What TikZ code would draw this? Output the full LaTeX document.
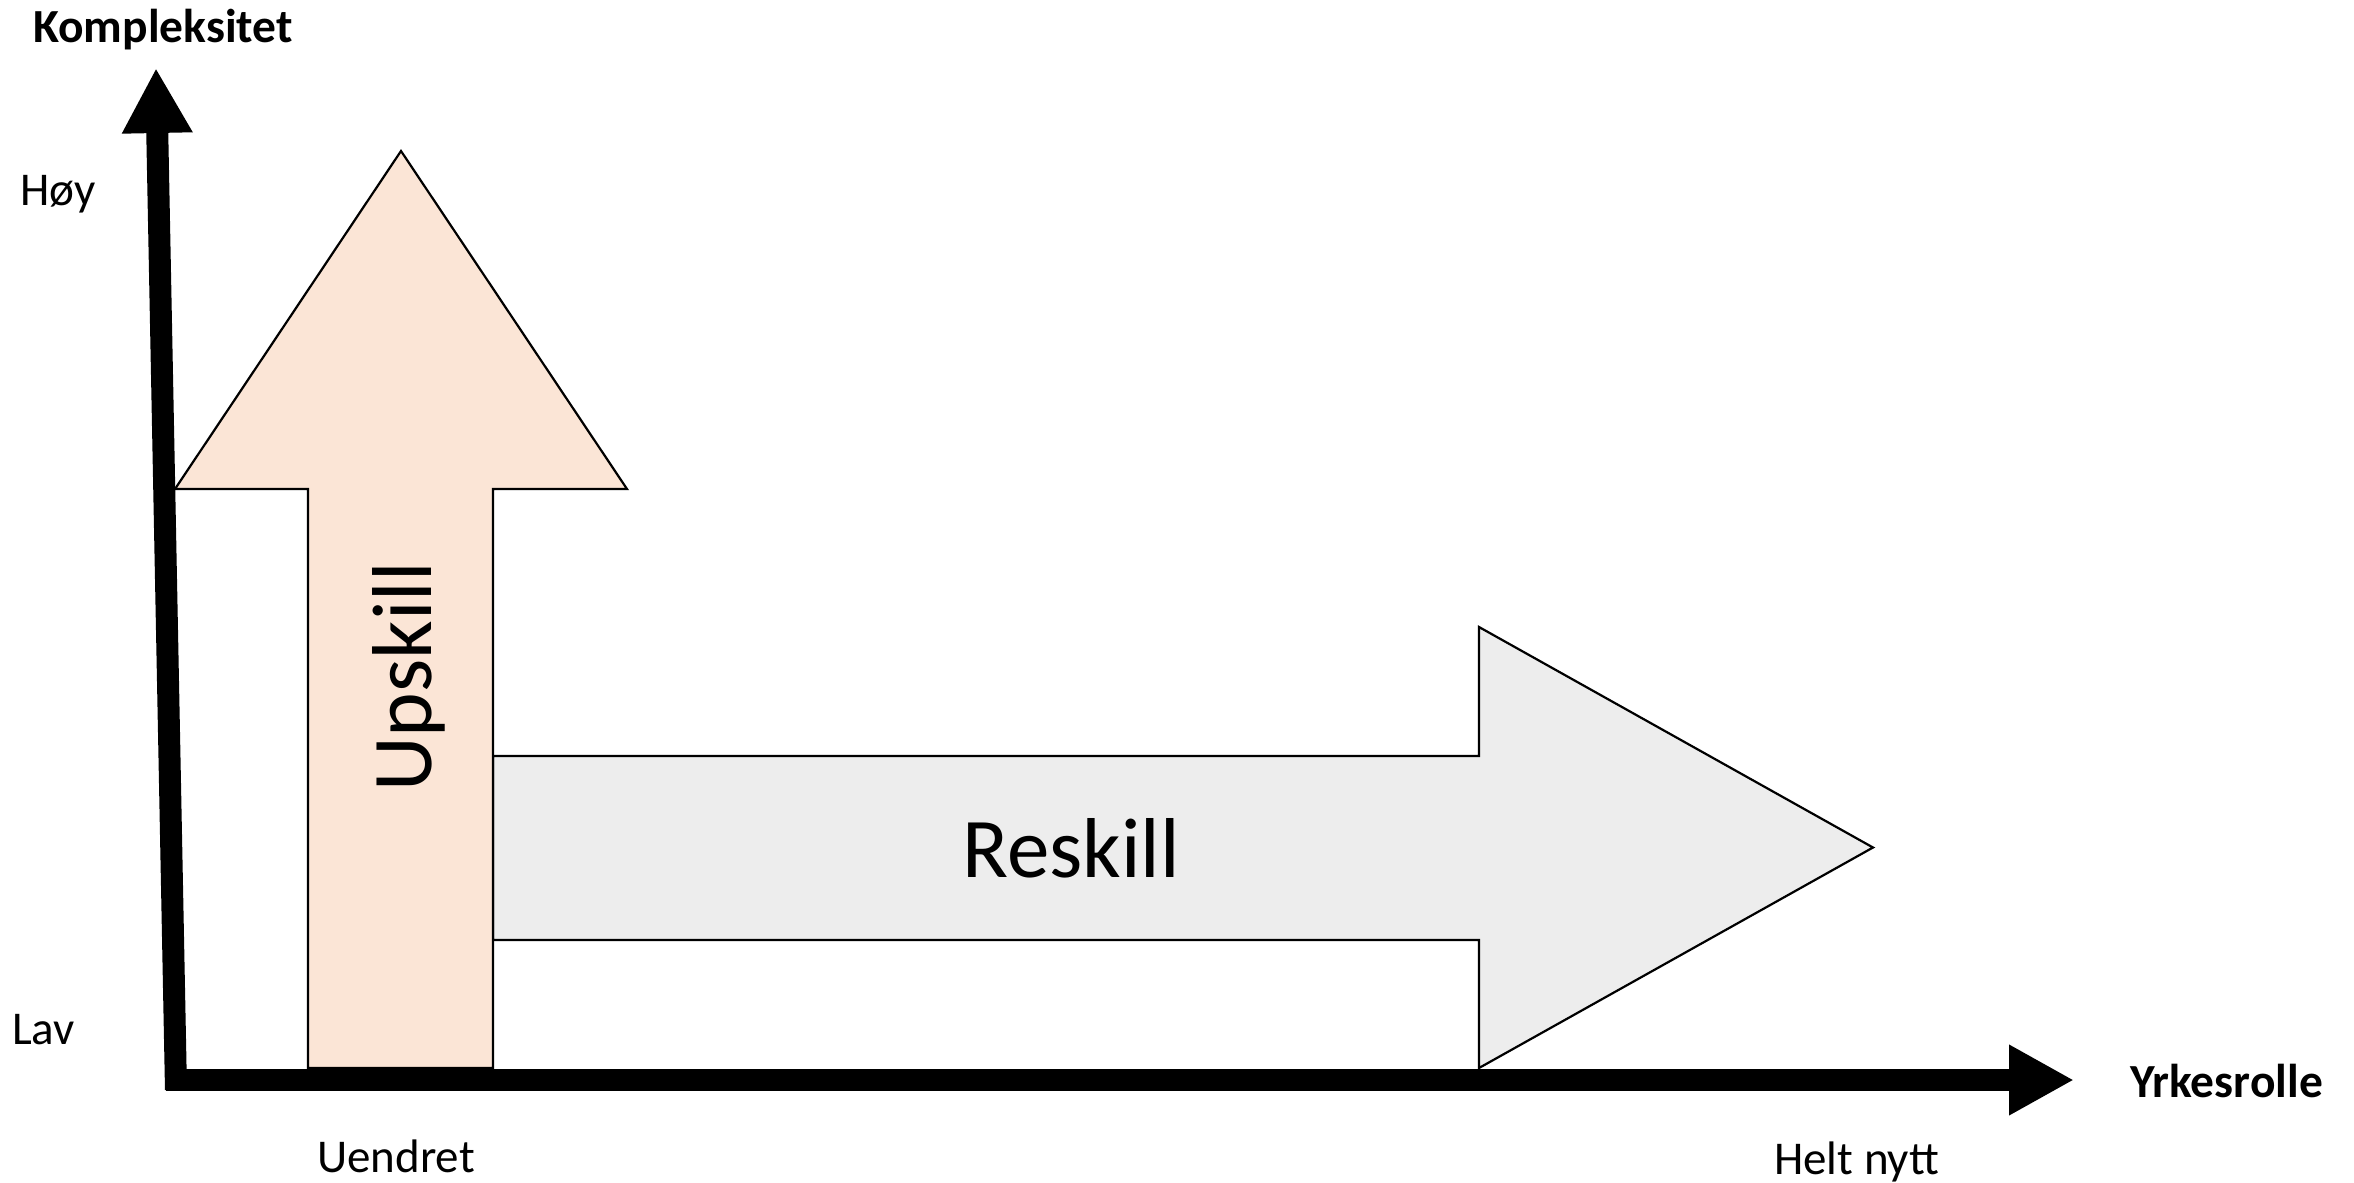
\documentclass[tikz,border=0pt]{standalone}
\usepackage{fontspec}
\setmainfont{Carlito}
\usetikzlibrary{arrows.meta}
\definecolor{upfill}{HTML}{FBE5D6}
\definecolor{refill}{HTML}{EDEDED}
\begin{document}
\begin{tikzpicture}[x=1pt,y=-1pt,
  axis/.style={line width=22pt, -{Triangle[length=65pt,width=66pt]}},
  outl/.style={draw=black, line width=2.2pt, line join=miter},
  lbl/.style={font=\fontsize{47}{52}\selectfont, anchor=base west, inner sep=0pt},
  blbl/.style={font=\fontsize{47.5}{52}\selectfont\bfseries, anchor=base west, inner sep=0pt},
  big/.style={font=\fontsize{85}{92}\selectfont, anchor=base, inner sep=0pt}]
\useasboundingbox (0,0) rectangle (2354,1183);
% reskill arrow
\draw[outl, fill=refill] (493,756) -- (1479,756) -- (1479,627) -- (1873,847.5) -- (1479,1068) -- (1479,940) -- (493,940) -- cycle;
% upskill arrow
\draw[outl, fill=upfill] (401,151) -- (627,489) -- (493,489) -- (493,1068) -- (308,1068) -- (308,489) -- (175,489) -- cycle;
% axes
\coordinate (yb) at (176,1090);
\coordinate (yt) at (156,68);
\coordinate (xb) at (166,1080);
\coordinate (xt) at (2074,1080);
\draw[axis] (yb) -- (yt);
\draw[axis] (xb) -- (xt);
% texts
\node[big, rotate=90] (up) at (431,677) {Upskill};
\node[big] (re) at (1071,877) {Reskill};
\node[blbl] (ky) at (33,42) {Kompleksitet};
\node[blbl] (yr) at (2130,1097) {Yrkesrolle};
\node[lbl] (hoy) at (20,205) {Høy};
\node[lbl] (lav) at (12,1044) {Lav};
\node[lbl] (uen) at (317,1172) {Uendret};
\node[lbl] (hn) at (1774,1174) {Helt nytt};
\end{tikzpicture}
\end{document}
